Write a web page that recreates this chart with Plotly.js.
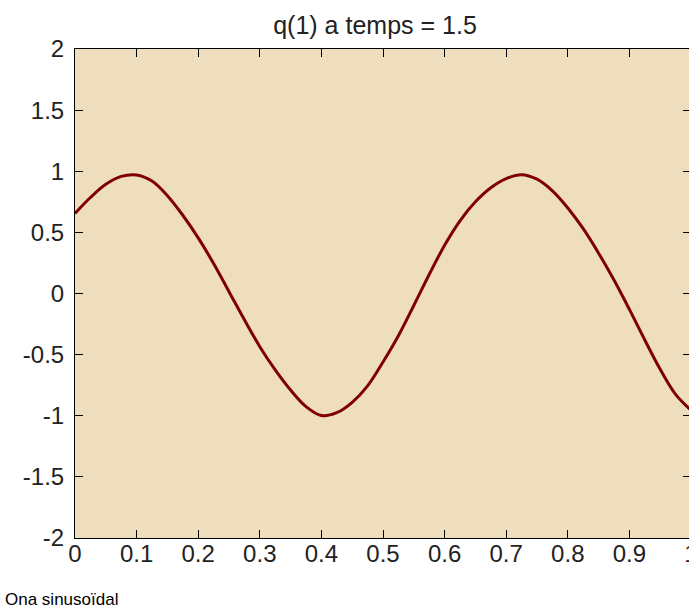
<!DOCTYPE html>
<html>
<head>
<meta charset="utf-8">
<script src="https://cdn.plot.ly/plotly-3.0.1.min.js"></script>
<style>
  html, body { margin: 0; padding: 0; background: #ffffff; overflow: hidden; width: 689px; height: 610px; }
  #chart { width: 700px; height: 610px; }
</style>
</head>
<body>
<div id="chart"></div>
<script>
// Values (x step 0.025)
const xValues = [0, 0.025, 0.05, 0.075, 0.1, 0.125, 0.15, 0.175, 0.2, 0.225,
  0.25, 0.275, 0.3, 0.325, 0.35, 0.375, 0.4, 0.425, 0.45, 0.475,
  0.5, 0.525, 0.55, 0.575, 0.6, 0.625, 0.65, 0.675, 0.7, 0.725,
  0.75, 0.775, 0.8, 0.825, 0.85, 0.875, 0.9, 0.925, 0.95, 0.975, 1.0];
const qValues = [0.655, 0.785, 0.893, 0.958, 0.970, 0.920, 0.800, 0.640, 0.455, 0.245,
  0.015, -0.215, -0.435, -0.625, -0.79, -0.925, -0.998, -0.975, -0.89, -0.755,
  -0.56, -0.345, -0.098, 0.155, 0.395, 0.595, 0.75, 0.865, 0.94, 0.972,
  0.935, 0.84, 0.70, 0.53, 0.33, 0.11, -0.13, -0.38, -0.62, -0.825, -0.955];
const xTicks = [0, 0.1, 0.2, 0.3, 0.4, 0.5, 0.6, 0.7, 0.8, 0.9, 1];
const xTickLabels = ['0', '0.1', '0.2', '0.3', '0.4', '0.5', '0.6', '0.7', '0.8', '0.9', '1'];
const yTicks = [-2, -1.5, -1, -0.5, 0, 0.5, 1, 1.5, 2];
const yTickLabels = ['-2', '-1.5', '-1', '-0.5', '0', '0.5', '1', '1.5', '2'];
const chartTitle = 'q(1) a temps = 1.5';
const caption = 'Ona sinusoïdal';

const tickFont = { family: '"Liberation Sans", Arial, sans-serif', size: 24, color: '#222222' };

const trace = {
  x: xValues,
  y: qValues,
  type: 'scatter',
  mode: 'lines',
  line: { color: '#800000', width: 3, shape: 'spline', smoothing: 1 },
  hoverinfo: 'skip'
};

const axisCommon = {
  showgrid: false,
  zeroline: false,
  showline: true,
  linecolor: '#000000',
  linewidth: 1,
  mirror: 'ticks',
  ticks: 'inside',
  ticklen: 8,
  tickwidth: 1,
  tickcolor: '#000000',
  tickfont: tickFont,
  tickmode: 'array',
  fixedrange: true
};

const layout = {
  width: 700,
  height: 610,
  margin: { l: 75, r: 9, t: 49, b: 72 },
  paper_bgcolor: '#ffffff',
  plot_bgcolor: '#efdebe',
  showlegend: false,
  title: {
    text: chartTitle,
    font: { family: tickFont.family, size: 25, color: '#222222' },
    xref: 'container', x: 375 / 700, xanchor: 'center',
    yref: 'container', y: 1 - 25 / 610, yanchor: 'middle'
  },
  xaxis: Object.assign({}, axisCommon, {
    range: [0, 1],
    tickvals: xTicks,
    ticktext: xTickLabels,
    ticklabelstandoff: -6
  }),
  yaxis: Object.assign({}, axisCommon, {
    range: [-2, 2],
    tickvals: yTicks,
    ticktext: yTickLabels,
    ticklabelstandoff: 5
  }),
  annotations: [{
    text: caption,
    xref: 'paper', yref: 'paper',
    x: -72 / 616, y: -62 / 489.4,
    xanchor: 'left', yanchor: 'middle',
    showarrow: false,
    font: { family: 'Arial, "Liberation Sans", sans-serif', size: 17, color: '#000000' }
  }]
};

Plotly.newPlot('chart', [trace], layout, { displayModeBar: false, staticPlot: true });
</script>
</body>
</html>
